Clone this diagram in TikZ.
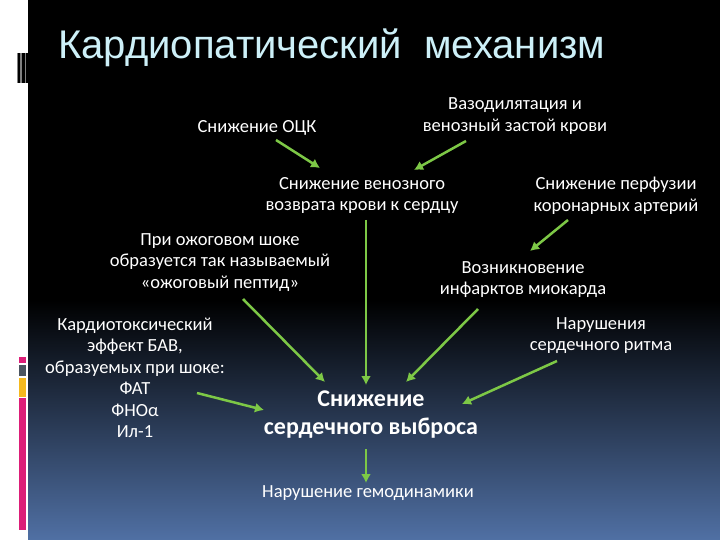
\documentclass[tikz,border=0pt]{standalone}
\usepackage{fontspec}
\setmainfont{Carlito}
\newfontfamily\titlefont{Liberation Sans}
\usepackage{xcolor}
\usetikzlibrary{arrows.meta}
\definecolor{arrowgreen}{RGB}{125,200,70}
\definecolor{titleblue}{RGB}{205,240,248}
\definecolor{slateblue}{RGB}{80,112,164}
\definecolor{midblue}{RGB}{24,32,52}
\definecolor{barpink}{RGB}{220,30,120}
\definecolor{bargrey}{RGB}{75,85,96}
\definecolor{baryellow}{RGB}{245,185,30}

\begin{document}
\begin{tikzpicture}[x=1pt, y=-1pt,
    txt/.style={text=white, align=center, inner sep=1pt, font=\fontsize{18.5}{21.5}\selectfont},
    big/.style={text=white, align=center, inner sep=1pt, font=\fontsize{24}{28}\selectfont\bfseries},
    arr/.style={draw=arrowgreen, line width=2.5pt, -{Latex[length=9pt,width=10pt]}}]
    \useasboundingbox (0,0) rectangle (720,540);
    % background
    \fill[white] (0,0) rectangle (720,540);
    \fill[black] (28,0) rectangle (720,300);
    \shade[top color=black, middle color=midblue, bottom color=slateblue] (28,300) rectangle (720,540);
    % left strip
    \fill[gray] (17,53) rectangle (28,83);
    \fill[black] (18,53) rectangle (20,83);
    \fill[black] (22,53) rectangle (25,83);
    \fill[black] (26,53) rectangle (28,83);
    \fill[barpink] (19,357) rectangle (26,363);
    \fill[bargrey] (19,365) rectangle (26,376);
    \fill[baryellow] (19,378) rectangle (26,397);
    \fill[barpink] (19,398) rectangle (26,530);

    \node[anchor=base west, text=titleblue, inner sep=0pt, font=\titlefont\fontsize{40}{40}\selectfont] (title) at (58,59) {Кардиопатический\ \ механизм};

    \node[txt] (vaso) at (515,116) {Вазодилятация и\\венозный застой крови};
    \node[txt] (ock) at (257,128) {Снижение ОЦК};
    \node[txt] (venous) at (362,195.5) {Снижение венозного\\возврата крови к сердцу};
    \node[txt] (perf) at (616,195.5) {Снижение перфузии\\коронарных артерий};
    \node[txt] (peptide) at (220,262.5) {При ожоговом шоке\\образуется так называемый\\«ожоговый пептид»};
    \node[txt] (infarct) at (523,279.5) {Возникновение\\инфарктов миокарда};
    \node[txt] (toxic) at (135,378) {Кардиотоксический\\эффект БАВ,\\образуемых при шоке:\\ФАТ\\ФНОα\\Ил-1};
    \node[txt] (rhythm) at (601,335.5) {Нарушения\\сердечного ритма};
    \node[big] (output) at (371,415) {Снижение\\сердечного выброса};
    \node[txt] (hemo) at (368,493) {Нарушение гемодинамики};

    \draw[arr] ([shift={(19,12)}]ock.center) -- ([shift={(-42,-27.5)}]venous.center);
    \draw[arr] ([shift={(-49,25)}]vaso.center) -- ([shift={(52,-25.5)}]venous.center);
    \draw[arr] ([shift={(4,24.5)}]venous.center) -- ([shift={(-5,-30)}]output.center);
    \draw[arr] ([shift={(-48,24.5)}]perf.center) -- ([shift={(7,-28.5)}]infarct.center);
    \draw[arr] ([shift={(23,36.5)}]peptide.center) -- ([shift={(-46,-33)}]output.center);
    \draw[arr] ([shift={(-45,29.5)}]infarct.center) -- ([shift={(35,-33)}]output.center);
    \draw[arr] ([shift={(-44,25.5)}]rhythm.center) -- ([shift={(91,-11)}]output.center);
    \draw[arr] ([shift={(62,15)}]toxic.center) -- ([shift={(-107,-5)}]output.center);
    \draw[arr] ([shift={(-5,34)}]output.center) -- ([shift={(-2,-10)}]hemo.center);
\end{tikzpicture}
\end{document}
